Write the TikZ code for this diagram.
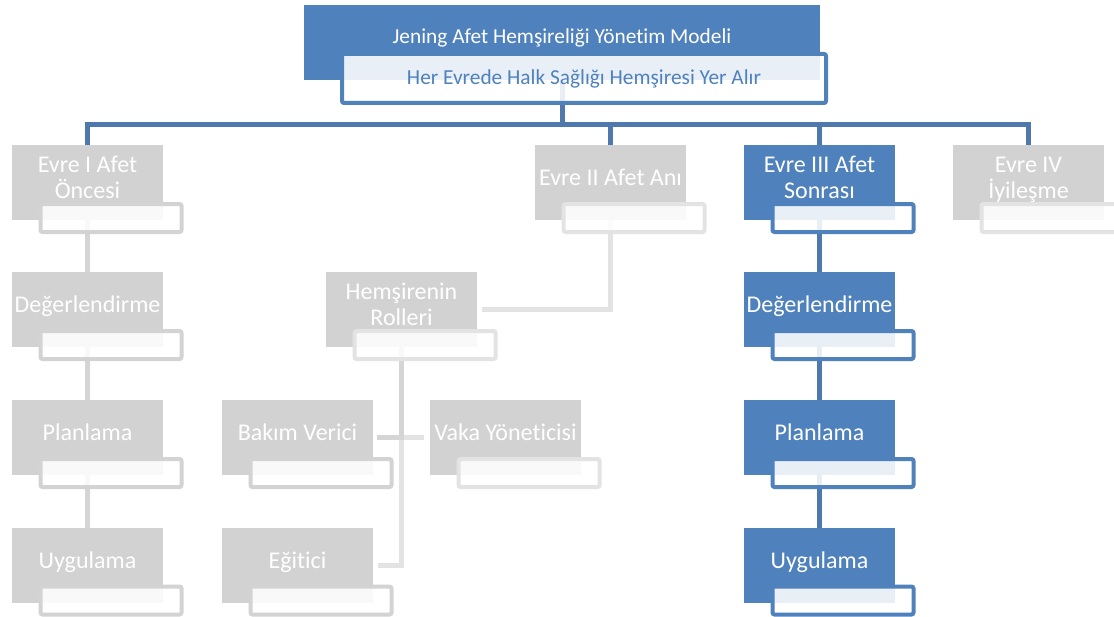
\documentclass[tikz,border=0pt]{standalone}
\usepackage{fontspec}
\setmainfont{Carlito}[Ligatures=NoCommon]
\definecolor{cBlue}{HTML}{4F81BD}
\definecolor{cGray}{HTML}{D2D2D2}
\definecolor{cSubGrayA}{HTML}{D3D3D3}
\definecolor{cSubGrayB}{HTML}{E3E3E3}
\definecolor{cLink}{HTML}{4470A8}
\definecolor{cLinkGrayA}{HTML}{D5D5D5}
\definecolor{cLinkGrayB}{HTML}{E3E3E3}
\pgfdeclarelayer{back}
\pgfsetlayers{back,main}
% one stage: filled box, outlined caption box, label
\newcommand\stagebox[6]{%
  \node[#4] (#1) at (#2,#3) {};
  \node[#5] (#1s) at (#2+23.5,#3+35.5) {};
  \node[lbl] (#1t) at (#2,#3-3) {#6\vphantom{g}};
}
\begin{document}
\begin{tikzpicture}[x=0.75pt,y=-0.75pt,
  every node/.style={inner sep=0pt,outer sep=0pt},
  mainbox/.style={rectangle,minimum width=113.25pt,minimum height=56.25pt,draw=none},
  bluefill/.style={mainbox,fill=cBlue},
  grayfill/.style={mainbox,fill=cGray},
  subbox/.style={rectangle,minimum width=105.75pt,minimum height=21pt,line width=3pt,
    rounded corners=1.5pt,fill=white,fill opacity=0.88,text opacity=1},
  bluesub/.style={subbox,draw=cBlue},
  graysubA/.style={subbox,draw=cSubGrayA},
  graysubB/.style={subbox,draw=cSubGrayB},
  lbl/.style={text=white,align=center,font=\fontsize{18}{19.5}\selectfont},
  link/.style={line width=3.75pt},
  bluelink/.style={link,draw=cLink,draw opacity=0.94},
  graylinkA/.style={link,draw=cLinkGrayA},
  graylinkB/.style={link,draw=cLinkGrayB}]
\useasboundingbox (0,0) rectangle (1114,617);

% root
\node[bluefill,minimum width=387pt] (root) at (562,42.5) {};
\node[lbl,font=\fontsize{16}{19}\selectfont] (roott) at (562,38) {Jening Afet Hemşireliği Yönetim Modeli};
\node[bluesub,minimum width=363pt,minimum height=36.75pt,text=cBlue,
  font=\fontsize{16}{19}\selectfont] (roots) at (584,78.5) {Her Evrede Halk Sağlığı Hemşiresi Yer Alır};

% phases
\stagebox{e1}{87.5}{182.5}{grayfill}{graysubA}{Evre I Afet\\Öncesi}
\stagebox{e2}{610.5}{182.5}{grayfill}{graysubB}{Evre II Afet Anı}
\stagebox{e3}{819.5}{182.5}{bluefill}{bluesub}{Evre III Afet\\Sonrası}
\stagebox{e4}{1028.5}{182.5}{grayfill}{graysubB}{Evre IV\\İyileşme}

% second row
\stagebox{d1}{87.5}{309.5}{grayfill}{graysubA}{Değerlendirme}
\stagebox{hr}{401.5}{309.5}{grayfill}{graysubB}{Hemşirenin\\Rolleri}
\stagebox{d3}{819.5}{309.5}{bluefill}{bluesub}{Değerlendirme}

% third row
\stagebox{p1}{87.5}{437.5}{grayfill}{graysubA}{Planlama}
\stagebox{bk}{297.5}{437.5}{grayfill}{graysubA}{Bakım Verici}
\stagebox{vk}{505.5}{437.5}{grayfill}{graysubB}{Vaka Yöneticisi}
\stagebox{p3}{819.5}{437.5}{bluefill}{bluesub}{Planlama}

% fourth row
\stagebox{u1}{87.5}{565}{grayfill}{graysubA}{Uygulama}
\stagebox{eg}{297.5}{565}{grayfill}{graysubA}{Eğitici}
\stagebox{u3}{819.5}{565}{bluefill}{bluesub}{Uygulama}

\coordinate (bar) at (562,124);

\begin{pgfonlayer}{back}
  % root to phases
  \draw[bluelink] (root.south) -- (bar) -| (e1.north)
                  (bar) -| (e2.north)
                  (bar) -| (e3.north)
                  (bar) -| (e4.north);
  % phase I column
  \draw[graylinkA] (e1.south) -- (d1.north);
  \draw[graylinkA] (d1.south) -- (p1.north);
  \draw[graylinkA] (p1.south) -- (u1.north);
  % phase II branch
  \draw[graylinkB,shorten >=3.75pt] (e2.south) |- (hr.east);
  \draw[graylinkB,shorten >=4.5pt] (hr.south) |- (vk.west);
  \draw[graylinkB,shorten >=3.75pt] (hr.south) |- (eg.east);
  \draw[graylinkA,shorten >=3pt] (hr.south) |- (bk.east);
  % phase III column
  \draw[bluelink] (e3.south) -- (d3.north);
  \draw[bluelink] (d3.south) -- (p3.north);
  \draw[bluelink] (p3.south) -- (u3.north);
\end{pgfonlayer}
\end{tikzpicture}
\end{document}
